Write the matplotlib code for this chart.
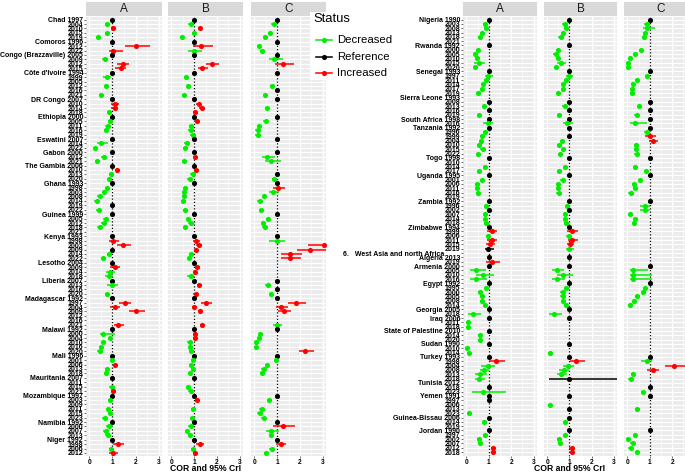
import matplotlib.pyplot as plt
from matplotlib.lines import Line2D
from matplotlib.patches import Rectangle

plt.rcParams['font.family'] = ['Liberation Sans', 'DejaVu Sans']

# ---------------- data: left block ----------------
left_countries = ["Chad", "Comoros", "Congo (Brazzaville)", "Côte d'Ivoire", "DR Congo",
                  "Ethiopia", "Eswatini", "Gabon", "The Gambia", "Ghana", "Guinea", "Kenya",
                  "Lesotho", "Liberia", "Madagascar", "Malawi", "Mali", "Mauritania",
                  "Mozambique", "Namibia", "Niger"]
left_years = [[1997, 2004, 2010, 2015, 2019], [1996, 2012, 2022], [2005, 2009, 2012, 2015],
              [1994, 1999, 2005, 2012, 2016, 2021], [2007, 2010, 2014, 2018],
              [2000, 2005, 2011, 2016, 2019], [2007, 2014, 2022], [2000, 2012, 2021],
              [2006, 2010, 2013, 2020], [1993, 1998, 2003, 2008, 2014, 2019, 2022],
              [1999, 2005, 2012, 2018, 2021], [1993, 1998, 2003, 2009, 2014, 2022],
              [2004, 2009, 2014, 2018], [2007, 2013, 2016, 2020],
              [1992, 1997, 2004, 2009, 2012, 2016, 2021], [1992, 2000, 2004, 2010, 2016, 2020],
              [1996, 2001, 2006, 2013, 2018], [2007, 2011, 2015, 2021],
              [1997, 2003, 2009, 2011, 2015, 2023], [1992, 2000, 2007, 2013],
              [1992, 1998, 2006, 2012]]

# status: R reference, D decreased, I increased, . no estimate
left_A_status = "RDIDD RII RDII RD.D.D RIID RDDD. RDD RDD RIDD RDDDDRD RDDD. RIIRDD RIDD RD.D RIII..I RDDDDD RDIDD R.DI RD.DDD RDDD RIDI"
left_A_est = [1.0, 0.76, 1.04, 0.76, 0.37,
              1.0, 2.0, 1.02,
              1.0, 0.66, 1.44, 1.36,
              1.0, 0.76, None, 0.71, None, 0.5,
              1.0, 1.1, 1.09, 0.87,
              1.0, 0.91, 0.79, 0.71, None,
              1.0, 0.5, 0.26,
              1.0, 0.61, 0.34,
              1.0, 1.21, 0.94, 0.87,
              1.0, 0.76, 0.64, 0.44, 0.31, 1.0, 0.4,
              1.0, 0.7, 0.61, 0.44, None,
              1.0, 1.04, 1.47, 1.0, 0.86, 0.6,
              1.0, 1.09, 0.91, 0.84,
              1.0, 0.96, None, 0.76,
              1.0, 1.54, 1.11, 2.01, None, None, 1.26,
              1.0, 0.6, 0.9, 0.6, 0.5, 0.44,
              1.0, 0.99, 1.13, 0.77, 0.73,
              1.0, None, 0.96, 1.04,
              1.0, 0.91, None, 0.81, 0.9, 0.66,
              1.0, 0.86, 0.7, 0.79,
              1.0, 1.24, 0.94, 1.01]
left_A_ci = {6: (1.54, 2.64), 7: (0.83, 1.44), 10: (1.21, 1.73), 11: (1.13, 1.59),
             13: (0.59, 0.93), 19: (0.94, 1.27), 20: (0.94, 1.25), 28: (0.33, 0.8),
             50: (0.83, 1.29), 51: (1.21, 1.8), 56: (0.9, 1.33), 57: (0.73, 1.11),
             58: (0.69, 1.04), 60: (0.76, 1.26), 64: (1.3, 1.8), 65: (0.9, 1.33),
             66: (1.73, 2.4), 69: (1.07, 1.5), 71: (0.47, 1.11), 92: (0.7, 1.04),
             96: (1.04, 1.5), 98: (0.83, 1.26)}

left_B_status = "RDIDD RID R.II RD.D.D RIII RIDDD RDD RID RIDD RDDDD.D RDDD. RIIIDD RIID RI.I RIII..I RIIDDD RDDDD R.DD RI.D.D RDDD RIDI"
left_B_est = [1.0, 0.84, 1.26, 1.0, 0.46,
              1.0, 1.32, 1.0,
              1.0, None, 1.77, 1.36,
              1.0, 0.65, None, 0.75, None, 0.55,
              1.0, 1.2, 1.33, 1.03,
              1.0, 1.13, 0.88, 0.84, 0.93,
              1.0, 0.67, 0.61,
              1.0, 1.03, 0.57,
              1.0, 1.1, 0.93, 0.8,
              1.0, 0.61, 0.55, 0.57, 0.52, None, 0.61,
              1.0, 0.75, 0.84, 0.61, None,
              1.0, 1.1, 1.2, 1.09, 0.88, 0.77,
              1.0, 1.14, 1.03, 0.84,
              1.0, 1.23, None, 1.06,
              1.0, 1.52, 1.01, 1.25, None, None, 1.35,
              1.0, 1.03, 1.03, 0.8, 0.83, 0.88,
              1.0, 0.94, 0.86, 0.94, 0.81,
              1.0, None, 0.74, 0.84,
              1.0, 1.12, None, 0.94, None, 0.91,
              1.0, 0.84, 0.7, 0.81,
              1.0, 1.25, 0.96, 1.04]
left_B_ci = {6: (0.96, 1.83), 7: (0.74, 1.36), 10: (1.51, 2.09), 11: (1.16, 1.61),
             28: (0.55, 0.8), 50: (0.96, 1.25), 51: (1.08, 1.35), 58: (0.7, 1.0),
             64: (1.3, 1.8), 96: (1.08, 1.45)}

left_C_status = "RD.DD RDD RDI. R..DRD R.D. RDDDD R.. RDD ..RD RIDDD.D RDDD. RDIIII .... RDRD RIII..D RDDDDI RDDDD .... RD.DDD RIDD RIDD"
left_C_est = [1.0, 0.85, None, 0.69, 0.46,
              1.0, 0.22, 0.35,
              1.0, 0.88, 1.24, None,
              1.0, None, None, 0.79, 1.0, 0.46,
              1.0, None, 0.55, None,
              1.0, 0.49, 0.22, 0.14, 0.14,
              1.0, None, None,
              1.0, 0.55, 0.72,
              None, None, 1.0, 0.86,
              1.0, 1.05, 0.81, 0.43, 0.23, None, 0.3,
              1.0, 0.59, 0.37, 0.45, None,
              1.0, 0.98, 3.06, 2.46, 1.58, 1.58,
              None, None, None, None,
              1.0, 0.58, 1.0, 0.72,
              1.0, 1.84, 1.18, 1.29, None, None, 0.98,
              1.0, 0.26, 0.2, 0.07, 0.07, 2.24,
              1.0, 0.94, 0.55, 0.4, 0.33,
              None, None, None, None,
              1.0, 0.66, None, 0.32, 0.23, 0.4,
              1.0, 1.24, 0.72, 0.72,
              1.0, 1.15, 0.76, 0.53]
left_C_ci = {9: (0.66, 1.27), 10: (0.91, 1.73), 31: (0.33, 0.9), 32: (0.48, 1.16),
             38: (0.8, 1.34), 39: (0.66, 1.06), 50: (0.66, 1.34), 51: (2.35, 3.3),
             52: (1.87, 3.14), 53: (1.19, 2.1), 54: (1.19, 2.07), 64: (1.48, 2.27),
             65: (0.95, 1.48), 66: (1.05, 1.63), 69: (0.81, 1.2), 75: (1.96, 2.63),
             92: (0.83, 1.77), 93: (0.52, 1.09), 96: (0.95, 1.37)}

# ---------------- data: right block ----------------
right_countries = ["Nigeria", "Rwanda", "Senegal", "Sierra Leone", "South Africa", "Tanzania",
                   "Togo", "Uganda", "Zambia", "Zimbabwe", "6.   West Asia and north Africa",
                   "Algeria", "Armenia", "Egypt", "Georgia", "Iraq", "State of Palestine",
                   "Sudan", "Turkey", "Tunisia", "Yemen", "Guinea-Bissau", "Jordan"]
right_years = [[1990, 2003, 2008, 2013, 2018, 2021], [1992, 2000, 2005, 2010, 2015, 2020],
               [1993, 1997, 2011, 2014, 2017, 2019], [1993, 2008, 2013, 2016, 2019],
               [1998, 2016], [1992, 1996, 1999, 2004, 2010, 2015, 2022],
               [1998, 2010, 2014, 2017], [1995, 2001, 2006, 2011, 2016, 2019],
               [1992, 1996, 2002, 2007, 2014, 2018], [1994, 1999, 2006, 2011, 2015, 2019],
               ['       '], [2013, 2019], [2000, 2005, 2010, 2016],
               [1992, 1995, 2000, 2005, 2008, 2014], [2005, 2018], [2006, 2011, 2018],
               [2010, 2014, 2020], [1990, 2010, 2014], [1993, 1998, 2004, 2008, 2013, 2018],
               [2012, 2018, 2023], [1991, 1997, 2006, 2013, 2023], [2006, 2014, 2019],
               [1990, 1997, 2002, 2007, 2012, 2018]]

right_A_status = "RDDDD. RDDDDD RDDDDD .RDRD RD RDDDDDD R.DD RDDDD. RDRDDD RIDIIR . RI RDDD RDDDDD RD RDD RDD RDD RIDDDD .RD RR..D RD. RDDDII"
right_A_est = [1.0, 0.82, 0.88, 0.69, 0.6, None,
               1.0, 0.51, 0.39, 0.49, 0.57, 0.4,
               1.0, 0.97, 0.87, 0.76, 0.69, 0.54,
               None, 1.0, 0.78, 1.0, 0.57,
               1.0, 0.96,
               1.0, 0.85, 0.69, 0.66, 0.57, 0.73, 0.54,
               1.0, None, 0.84, 0.57,
               1.0, 0.7, 0.49, 0.49, 0.51, None,
               1.0, 0.87, 1.0, 0.82, 0.82, 0.87,
               1.0, 1.13, 0.96, 1.13, 1.04, 0.98,
               None,
               1.0, 1.16,
               1.0, 0.42, 0.72, 0.45,
               1.0, 0.87, 0.63, 0.69, 0.7, 0.82,
               1.0, 0.3,
               1.0, 0.07, 0.07,
               1.0, 0.61, 0.61,
               1.0, 0.04, 0.12,
               1.0, 1.33, 0.95, 0.77, 0.61, 0.57,
               None, 1.0, 0.75,
               1.0, 1.0, None, None, 0.12,
               1.0, 0.8, None,
               1.0, 0.82, 0.57, 0.6, 1.2, 1.2]
right_A_ci = {10: (0.33, 0.82), 13: (0.82, 1.19), 24: (0.75, 1.19), 49: (0.9, 1.37),
              51: (0.93, 1.37), 52: (0.87, 1.27), 53: (0.82, 1.22), 56: (0.87, 1.49),
              58: (0.15, 0.86), 59: (0.42, 1.22), 60: (0.18, 0.92), 68: (0.07, 0.67),
              79: (1.0, 1.71), 80: (0.67, 1.26), 81: (0.6, 1.01), 82: (0.37, 0.9),
              83: (0.37, 0.82), 86: (0.27, 1.76)}

right_B_status = "RDDDD. RDDDDD RDDDDD .RDRD RD R.RDDDD R.DD RDDDD. RDRDDD RIDIID . R. RDDD RDDDDD RD R.. ... R.D RIDDDR ... R.DR. RD. RDDDII"
right_B_est = [1.0, 0.78, 0.85, 0.7, 0.6, None,
               1.0, 0.49, 0.37, 0.48, 0.63, 0.4,
               1.0, 1.0, 0.84, 0.73, 0.7, 0.49,
               None, 1.0, 0.78, 1.0, 0.55,
               1.0, 0.88,
               1.0, None, 1.0, 0.66, 0.55, 0.73, 0.58,
               1.0, None, 0.82, 0.55,
               1.0, 0.69, 0.48, 0.48, 0.51, None,
               1.0, 0.88, 1.0, 0.81, 0.82, 0.85,
               1.0, 1.12, 0.96, 1.13, 1.04, 0.98,
               None,
               1.0, None,
               1.0, 0.46, 0.73, 0.43,
               1.0, 0.85, 0.69, 0.69, 0.72, 0.84,
               1.0, 0.31,
               1.0, None, None,
               None, None, None,
               1.0, None, 0.13,
               1.0, 1.31, 0.94, 0.75, 0.61, 1.0,
               None, None, None,
               1.0, None, 0.13, 1.0, None,
               1.0, 0.8, None,
               1.0, 0.81, 0.55, 0.58, 1.1, 1.1]
right_B_ci = {10: (0.43, 0.84), 13: (0.84, 1.18), 24: (0.73, 1.18), 49: (0.88, 1.4),
              51: (0.93, 1.37), 52: (0.9, 1.22), 53: (0.84, 1.22), 58: (0.21, 0.76),
              59: (0.46, 1.18), 60: (0.21, 0.81), 68: (0.09, 0.66), 79: (1.03, 1.7),
              80: (0.7, 1.21), 81: (0.55, 0.96), 82: (0.43, 0.88), 83: (0.09, 3.4)}

right_C_status = "RDDDD. .DDDDD RDDDDD .RDRD RD RDIIDDD R.DD RDDDD. RDDDDD ...... . .. RDDD RDDDDD .. ... ... ... RDIIDD .RD R..D. ... RDDDDD"
right_C_est = [1.0, 0.86, 0.89, 0.78, 0.75, None,
               None, 0.6, 0.35, 0.11, 0.03, 0.02,
               1.0, 0.89, 0.44, 0.26, 0.21, 0.21,
               None, 1.0, 0.51, 1.0, 0.41,
               1.0, 0.33,
               1.0, 0.86, 1.0, 1.16, 0.38, 0.38, 0.41,
               1.0, None, 0.33, 0.83,
               1.0, 0.56, 0.3, 0.36, 0.15, None,
               1.0, 0.78, 0.78, 0.12, 0.36, 0.3,
               None, None, None, None, None, None,
               None,
               None, None,
               1.0, 0.23, 0.23, 0.23,
               1.0, 0.78, 0.71, 0.45, 0.3, 0.11,
               None, None,
               None, None, None,
               None, None, None,
               None, None, None,
               1.0, 0.86, 2.06, 1.16, 0.26, 0.15,
               None, 1.0, 0.71,
               1.0, None, None, 0.45, None,
               None, None, None,
               1.0, 0.33, 0.03, 0.23, 0.15, 0.44]
right_C_ci = {2: (0.7, 1.22), 24: (0.1, 0.89), 27: (0.78, 1.28), 28: (0.98, 1.35),
              43: (0.56, 1.0), 44: (0.56, 1.02), 58: (0.1, 0.93), 59: (0.1, 1.12),
              60: (0.1, 1.12), 79: (0.63, 1.08), 80: (1.68, 2.7), 81: (0.89, 1.43)}

# typical half-width of the short intervals
half_ref = 0.05
half_other = 0.1

colors = {'D': '#00EE00', 'R': 'black', 'I': '#FF0000'}
names = {'D': 'Decreased', 'R': 'Reference', 'I': 'Increased'}

W, H = 685, 472
fig = plt.figure(figsize=(W / 100, H / 100), dpi=100)


def box(x0, y0, x1, y1):
    return [x0 / W, 1 - y1 / H, (x1 - x0) / W, (y1 - y0) / H]


def fx(x):
    return x / W


def fy(y):
    return 1 - y / H


def make_labels(countries, years):
    out = []
    for c, ys in zip(countries, years):
        for k, y in enumerate(ys):
            out.append(f"{c} {y}" if k == 0 else str(y))
    return out


def draw_panel(x0, x1, title, est, status, ci, labels, bottom_pad, ticks=(0, 1, 2, 3)):
    status = status.replace(' ', '')
    n = len(status)
    ax = fig.add_axes(box(x0, 16.5, x1, 456))
    ax.set_facecolor('#EBEBEB')
    ax.set_xlim(-0.15, 3.15)
    ax.set_ylim(n - 1 + bottom_pad, -0.7)
    ax.set_xticks(list(ticks))
    ax.set_xticks([0.5, 1.5, 2.5], minor=True)
    ax.set_yticks(range(n))
    ax.grid(which='major', color='white', lw=0.9)
    ax.grid(which='minor', axis='x', color='white', lw=0.45)
    ax.axvline(3, color='white', lw=0.9, zorder=0.5)
    ax.set_axisbelow(True)
    for sp in ax.spines.values():
        sp.set_visible(False)
    ax.axvline(1, color='black', ls=(0, (1, 1.6)), lw=0.9, zorder=2)
    for i, (v, s) in enumerate(zip(est, status)):
        if s == '.':
            continue
        h = half_ref if s == 'R' else half_other
        lo, hi = ci.get(i, (v - h, v + h))
        ax.plot([lo, hi], [i, i], color=colors[s], lw=1.1, solid_capstyle='butt', zorder=3)
        ax.plot(v, i, 'o', color=colors[s], ms=3.7, mew=0, zorder=4)
    ax.tick_params(axis='x', which='major', length=1.5, width=0.5, color='#333333',
                   pad=0.3, labelsize=4.8)
    ax.tick_params(axis='x', which='minor', length=0)
    for t in ax.get_xticklabels():
        t.set_fontweight('bold')
    if labels is not None:
        ax.set_yticklabels(labels, fontsize=5.0, fontweight='bold')
        ax.tick_params(axis='y', length=1.5, width=0.5, color='#333333', pad=0.6)
    else:
        ax.tick_params(axis='y', length=0, labelleft=False)
    sax = fig.add_axes(box(x0, 2, x1, 15.5))
    sax.set_facecolor('#D9D9D9')
    sax.set_xticks([])
    sax.set_yticks([])
    for sp in sax.spines.values():
        sp.set_visible(False)
    sax.text(0.5, 0.45, title, ha='center', va='center', fontsize=8.5, color='#1A1A1A')
    return ax


left_labels = make_labels(left_countries, left_years)
right_labels = make_labels(right_countries, right_years)

draw_panel(86, 162, 'A', left_A_est, left_A_status, left_A_ci, left_labels, 0.68)
draw_panel(168, 243, 'B', left_B_est, left_B_status, left_B_ci, None, 0.68)
draw_panel(251, 326, 'C', left_C_est, left_C_status, left_C_ci, None, 0.68)

draw_panel(463, 537, 'A', right_A_est, right_A_status, right_A_ci, right_labels, 0.9)
draw_panel(544, 617, 'B', right_B_est, right_B_status, right_B_ci, None, 0.9)
draw_panel(624, 698, 'C', right_C_est, right_C_status, right_C_ci, None, 0.9, ticks=(0, 1, 2))

fig.text(fx(206), fy(468.5), 'COR and 95% CrI', ha='center', va='center',
         fontsize=6.2, fontweight='bold')
fig.text(fx(570), fy(468.5), 'COR and 95% CrI', ha='center', va='center',
         fontsize=6.2, fontweight='bold')

# legend drawn by hand so it can sit over the corner of panel C like the original
fig.add_artist(Rectangle((fx(310), fy(80)), (400 - 310) / W, 68 / H,
                         transform=fig.transFigure, facecolor='white',
                         edgecolor='none', zorder=5))
fig.text(fx(313), fy(18.5), 'Status', ha='left', va='center', fontsize=9.4, zorder=6)
for k, yy in zip(['D', 'R', 'I'], [40, 57, 73]):
    fig.add_artist(Line2D([fx(316), fx(332)], [fy(yy), fy(yy)], color=colors[k], lw=1.1,
                          transform=fig.transFigure, zorder=6))
    fig.add_artist(Line2D([fx(324)], [fy(yy)], color=colors[k], marker='o', ms=3.7, mew=0,
                          transform=fig.transFigure, zorder=6))
    fig.text(fx(337), fy(yy), names[k], ha='left', va='center', fontsize=8.2, zorder=6)

fig.savefig('out.png', dpi=100)
